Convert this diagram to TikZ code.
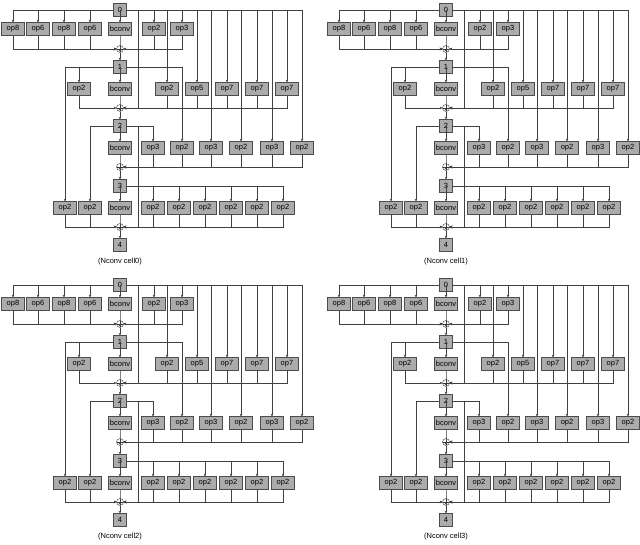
\documentclass[tikz,border=0pt]{standalone}
\usepackage{fontspec}
\setmainfont{Liberation Sans}
\usetikzlibrary{arrows.meta}
\tikzset{
 op/.style={draw=black!70,fill=black!33,minimum width=23pt,minimum height=13pt,inner xsep=1.5pt,inner ysep=0pt,font=\fontsize{7.5}{9}\selectfont},
 num/.style={op,minimum width=13pt},
 sum/.style={circle,draw=black!80,minimum size=7pt,inner sep=0pt,path picture={\draw[black!80] (path picture bounding box.north)--(path picture bounding box.south) (path picture bounding box.west)--(path picture bounding box.east);}},
 wire/.style={draw=black!75,line width=0.5pt,-{Stealth[length=2.5pt,width=2.5pt]}},
 lab/.style={font=\fontsize{7.5}{9}\selectfont}
}
\newcommand\drawcell[4]{%
\begin{scope}[shift={(#2,#3)}]
\node[num] (#1n0) at (120,10) {0};
\node[sum] (#1s1) at (120,49) {};
\node[num] (#1n1) at (120,67) {1};
\node[sum] (#1s2) at (120,108) {};
\node[num] (#1n2) at (120,126) {2};
\node[sum] (#1s3) at (120,167) {};
\node[num] (#1n3) at (120,186) {3};
\node[sum] (#1s4) at (120,227) {};
\node[num] (#1n4) at (120,245) {4};
\node[lab] (#1lab) at (120,262) {#4};
\coordinate (#1cA) at (138,108);
\coordinate (#1cB) at (138,227);
\path[wire] (#1n0) -| (#1cA) -- (#1s2);
\path[wire] (#1n2) -| (#1cB) -- (#1s4);
\path[wire] (#1s1) -- (#1n1);
\path[wire] (#1s2) -- (#1n2);
\path[wire] (#1s3) -- (#1n3);
\path[wire] (#1s4) -- (#1n4);
\foreach \x/\t/\s [count=\i] in {13/op8/n0,38/op6/n0,64/op8/n0,90/op6/n0,120/bconv/n0,154/op2/n0,182/op3/n0}{
 \node[op] (#1A\i) at (\x,29) {\t};
 \path[wire] (#1\s) -| (#1A\i.north);
 \path[wire] (#1A\i) |- (#1s1);}
\foreach \x/\t/\s [count=\i] in {79/op2/n1,120/bconv/n1,167/op2/n0,197/op5/n0,227/op7/n0,257/op7/n0,287/op7/n0}{
 \node[op] (#1B\i) at (\x,89) {\t};
 \path[wire] (#1\s) -| (#1B\i.north);
 \path[wire] (#1B\i) |- (#1s2);}
\foreach \x/\t/\s [count=\i] in {120/bconv/n2,153/op3/n2,182/op2/n1,211/op3/n0,241/op2/n0,272/op3/n0,302/op2/n0}{
 \node[op] (#1C\i) at (\x,148) {\t};
 \path[wire] (#1\s) -| (#1C\i.north);
 \path[wire] (#1C\i) |- (#1s3);}
\foreach \x/\t/\s [count=\i] in {65/op2/n1,90/op2/n2,120/bconv/n3,153/op2/n3,179/op2/n3,205/op2/n3,231/op2/n3,257/op2/n3,283/op2/n3}{
 \node[op] (#1D\i) at (\x,208) {\t};
 \path[wire] (#1\s) -| (#1D\i.north);
 \path[wire] (#1D\i) |- (#1s4);}
\end{scope}}
\begin{document}
\begin{tikzpicture}[x=1pt,y=-1pt]
\fill[white] (0,0) rectangle (640,545);
\useasboundingbox (0,0) rectangle (640,545);
\drawcell{a}{0}{0}{(Nconv cell0)}
\drawcell{b}{326}{0}{(Nconv cell1)}
\drawcell{c}{0}{275}{(Nconv cell2)}
\drawcell{d}{326}{275}{(Nconv cell3)}
\end{tikzpicture}
\end{document}
